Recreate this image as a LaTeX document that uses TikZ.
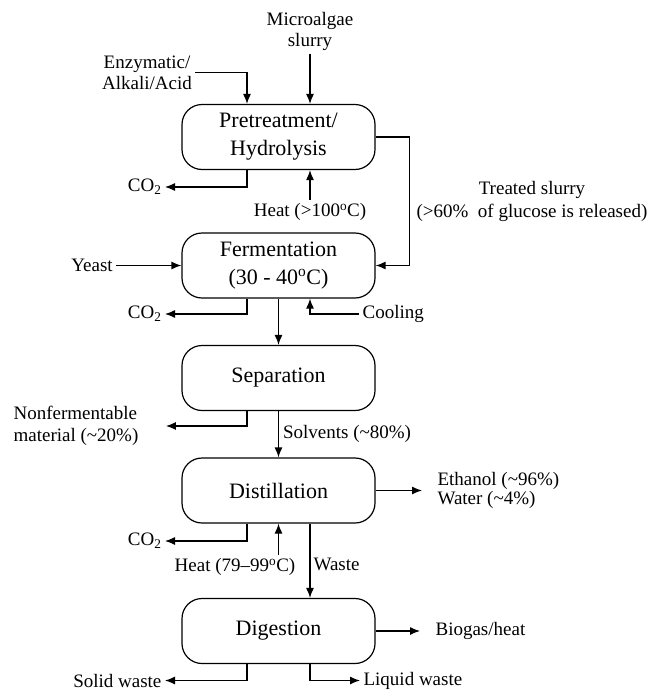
\documentclass[tikz,border=0pt]{standalone}
\usepackage{fontspec}
\setmainfont{Liberation Serif}
\usetikzlibrary{arrows.meta}
\begin{document}
\begin{tikzpicture}[x=1pt,y=-1pt,line width=1.2pt,
    proc/.style={draw,rounded corners=20pt,minimum width=193pt,minimum height=65pt,align=center,font=\fontsize{22}{28}\selectfont},
    lbl/.style={inner sep=3pt,align=center,font=\fontsize{19}{21}\selectfont},
    arr/.style={-{Latex[length=10pt,width=8pt]}}]
        \useasboundingbox (0,0) rectangle (652,691);
        \node[proc] (pre) at (278.5,137) {Pretreatment/\\Hydrolysis};
        \node[proc] (fer) at (278.5,265.5) {Fermentation\\(30 - 40\textsuperscript{o}C)};
        \node[proc] (sep) at (278.5,378) {Separation};
        \node[proc] (dis) at (278.5,490.5) {Distillation};
        \node[proc] (dig) at (278.5,631) {Digestion};
        \node[lbl] (alg) at (310,31) {Microalgae\\slurry};
        \node[lbl] (enz) at (147,72.5) {Enzymatic/\\Alkali/Acid};
        \node[lbl] (heatpre) at (310,212) {Heat (>100\textsuperscript{o}C)};
        \node[lbl,font=\fontsize{19}{23}\selectfont] (slurry) at (532,201.5) {Treated slurry\\(>60\%~ of glucose is released)};
        \node[lbl] (yeast) at (92,265.5) {Yeast};
        \node[lbl,anchor=west] (cool) at (359,314) {Cooling};
        \node[lbl,align=left,anchor=west,font=\fontsize{19}{22}\selectfont] (nonf) at (10,426) {Nonfermentable\\material (\textasciitilde20\%)};
        \node[lbl,align=left,anchor=west,font=\fontsize{19}{19}\selectfont] (eth) at (434,490.5) {Ethanol (\textasciitilde96\%)\\Water (\textasciitilde4\%)};
        \node[lbl] (heatdis) at (235,567) {Heat (79--99\textsuperscript{o}C)};
        \node[lbl,anchor=west] (bio) at (432,631) {Biogas/heat};
        \node[lbl,anchor=east] (solid) at (165,680.5) {Solid waste};
        \node[lbl,anchor=west] (liquid) at (360,680.5) {Liquid waste};
        \foreach \b/\y in {pre/187,fer/314,dis/541}
          \node[lbl,anchor=east] (co2\b) at (165,\y) {CO\textsubscript{2}};
        \draw[arr] (alg) -- (alg |- pre.north);
        \draw[arr] (enz) -| ([xshift=-31.5pt]pre.north);
        \draw[arr] (heatpre) -- (heatpre |- pre.south);
        \draw[arr] (pre.east) -- ++(34,0) |- (fer.east);
        \draw[arr] (yeast) -- (fer.west);
        \foreach \b in {pre,fer,dis}
          \draw[arr] ([xshift=-31.5pt]\b.south) |- (co2\b);
        \draw[arr] (cool) -| ([xshift=31.5pt]fer.south);
        \draw[arr] (fer) -- (sep);
        \draw[arr] ([xshift=-31.5pt]sep.south) |- ([xshift=24pt]nonf.east);
        \draw[arr] (sep) -- node[lbl,right,xshift=1pt] {Solvents (\textasciitilde80\%)} (dis);
        \draw[arr] (dis.east) -- ([xshift=-12pt]eth.west);
        \draw[arr] (heatdis.north -| dis.south) -- (dis.south);
        \draw[arr] ([xshift=31.5pt]dis.south) -- node[lbl,right,pos=0.55] {Waste} ([xshift=31.5pt]dig.north);
        \draw[arr] (dig.east) -- ([xshift=-12pt]bio.west);
        \draw[arr] ([xshift=-31.5pt]dig.south) |- (solid);
        \draw[arr] ([xshift=31.5pt]dig.south) |- (liquid);
      \end{tikzpicture}
\end{document}
